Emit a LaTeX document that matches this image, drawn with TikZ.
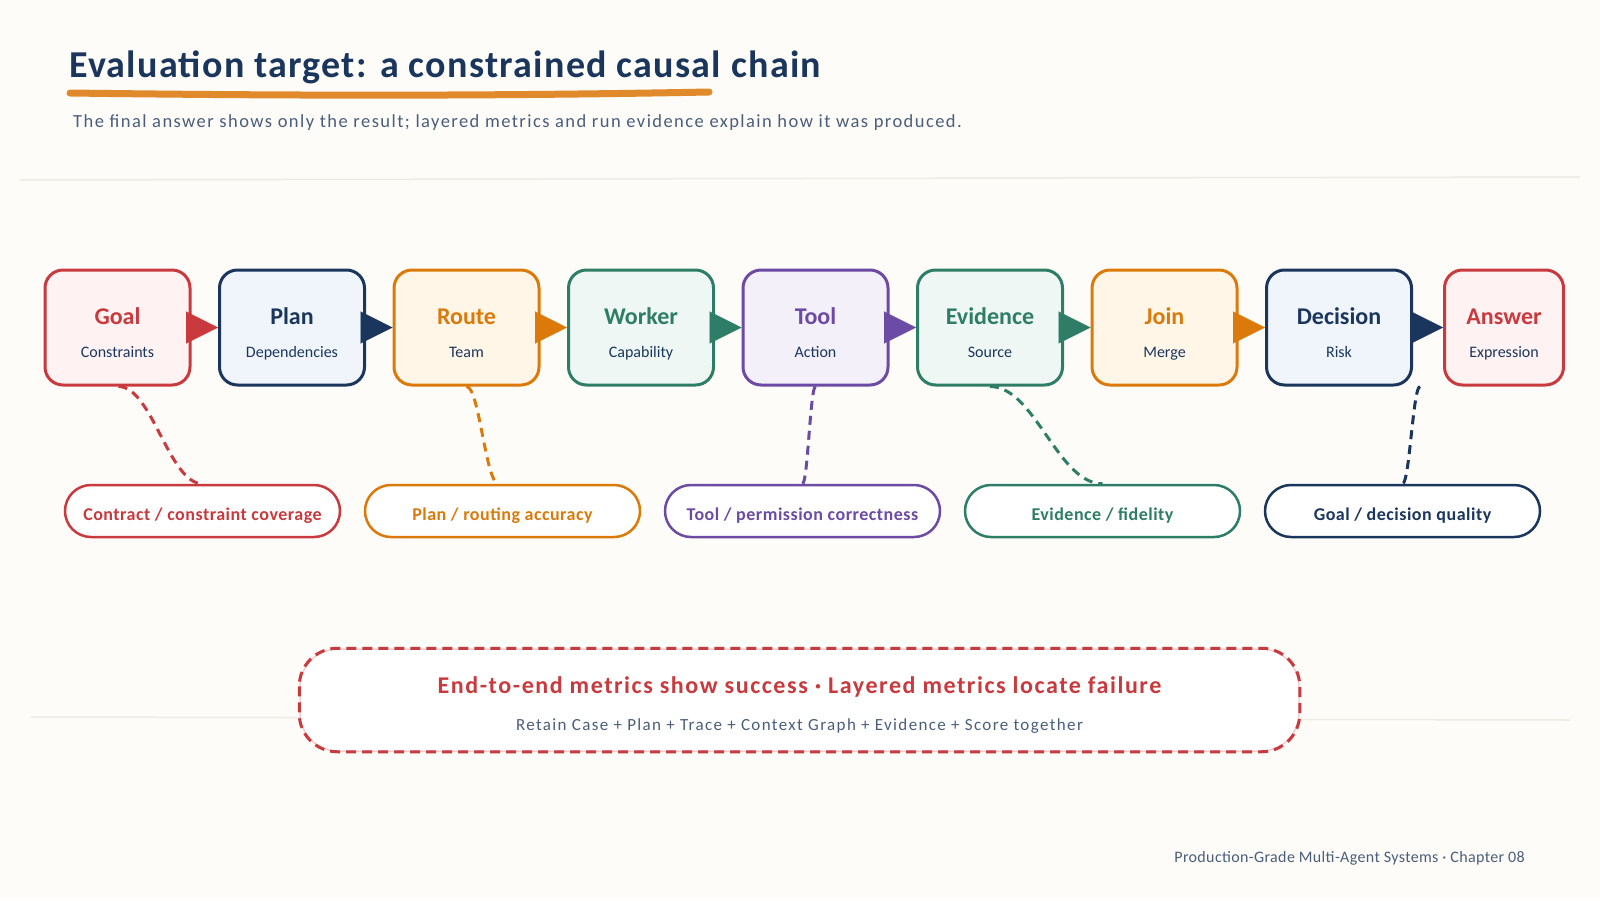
\documentclass[tikz,border=0pt]{standalone}
\usepackage{fontspec}
\setmainfont{Carlito}
\usetikzlibrary{arrows.meta,calc}
\definecolor{bg}{HTML}{FEFCF8}
\definecolor{cred}{HTML}{C93A3E}
\definecolor{credf}{HTML}{FFF2F2}
\definecolor{cnavy}{HTML}{1B365D}
\definecolor{cnavyf}{HTML}{F0F5FC}
\definecolor{corange}{HTML}{DB7A0A}
\definecolor{corangef}{HTML}{FFF6E8}
\definecolor{cgreen}{HTML}{2E7D66}
\definecolor{cgreenf}{HTML}{EFF7F4}
\definecolor{cpurple}{HTML}{6B4BA3}
\definecolor{cpurplef}{HTML}{F4F0FA}
\definecolor{cslate}{HTML}{4A5E7A}
\definecolor{cline}{HTML}{EDEBE3}
\definecolor{cunder}{HTML}{E08A2C}
\tikzset{
  box/.style={rectangle, rounded corners=18pt, line width=3pt, minimum height=115pt, inner sep=0pt},
  btitle/.style={anchor=base, inner sep=0pt, font=\fontsize{24}{28}\selectfont\bfseries},
  bsub/.style={anchor=base, inner sep=0pt, text=cnavy, font=\fontsize{16}{19}\selectfont},
  pill/.style={rectangle, rounded corners=26pt, line width=2.5pt, minimum width=275pt, minimum height=52pt, fill=white, inner sep=0pt},
  ptext/.style={anchor=base, inner sep=0pt, font=\fontsize{18}{22}\selectfont\bfseries\addfontfeatures{LetterSpace=2.8}},
  chainarrow/.style={line width=0.1pt, -{Triangle[length=32pt,width=32pt]}},
  link/.style={line width=3pt, dash pattern=on 9pt off 6pt},
}
\newcommand\chainbox[6]{%
  \node[box, draw=#4, fill=#4f, minimum width=#3] (#1) at (#2,327.5) {};
  \node[btitle, text=#4] (#1t) at (#2,324) {#5};
  \node[bsub] (#1s) at (#2,357) {#6};
}
\newcommand\metricpill[4]{%
  \node[pill, draw=#3] (#1) at (#2,511) {};
  \node[ptext, text=#3] (#1t) at (#2,520) {#4};
}
\begin{document}
\begin{tikzpicture}[x=1pt,y=-1pt]
\useasboundingbox (0,0) rectangle (1600,900);
\fill[bg] (0,0) rectangle (1600,900);
% separators
\draw[cline, line width=1.5pt] (20,180) -- (1580,177);
\draw[cline, line width=1.5pt] (31,717) -- (1570,720);
% title
\node[anchor=base west, inner sep=0pt, text=cnavy, font=\fontsize{38}{44}\selectfont\bfseries\addfontfeatures{LetterSpace=3.4}] (title) at (69,77) {Evaluation target: a constrained causal chain};
\draw[cunder, line width=7pt, line cap=round] (70,93) .. controls (300,96) and (500,96) .. (709,92);
\node[anchor=base west, inner sep=0pt, text=cslate, font=\fontsize{18.5}{22}\selectfont\addfontfeatures{LetterSpace=7.8}] (subtitle) at (73,127) {The final answer shows only the result; layered metrics and run evidence explain how it was produced.};
% chain boxes
\chainbox{goal}{117.5}{145pt}{cred}{Goal}{Constraints}
\chainbox{plan}{292}{145pt}{cnavy}{Plan}{Dependencies}
\chainbox{route}{466.5}{145pt}{corange}{Route}{Team}
\chainbox{worker}{641}{145pt}{cgreen}{Worker}{Capability}
\chainbox{tool}{815.5}{145pt}{cpurple}{Tool}{Action}
\chainbox{evid}{990}{145pt}{cgreen}{Evidence}{Source}
\chainbox{join}{1164.5}{145pt}{corange}{Join}{Merge}
\chainbox{dec}{1339}{145pt}{cnavy}{Decision}{Risk}
\chainbox{ans}{1504}{119pt}{cred}{Answer}{Expression}
% arrows
\draw[chainarrow, cred, fill=cred] (goal.east) -- (plan.west);
\draw[chainarrow, cnavy, fill=cnavy] (plan.east) -- (route.west);
\draw[chainarrow, corange, fill=corange] (route.east) -- (worker.west);
\draw[chainarrow, cgreen, fill=cgreen] (worker.east) -- (tool.west);
\draw[chainarrow, cpurple, fill=cpurple] (tool.east) -- (evid.west);
\draw[chainarrow, cgreen, fill=cgreen] (evid.east) -- (join.west);
\draw[chainarrow, corange, fill=corange] (join.east) -- (dec.west);
\draw[chainarrow, cnavy, fill=cnavy] (dec.east) -- (ans.west);
% metric pills
\metricpill{m1}{202.5}{cred}{Contract / constraint coverage}
\metricpill{m2}{502.5}{corange}{Plan / routing accuracy}
\metricpill{m3}{802.5}{cpurple}{Tool / permission correctness}
\metricpill{m4}{1102.5}{cgreen}{Evidence / fidelity}
\metricpill{m5}{1402.5}{cnavy}{Goal / decision quality}
% dashed links
\coordinate (s1) at ([xshift=1pt]goal.south);
\coordinate (s2) at (route.south);
\coordinate (s3) at (tool.south);
\coordinate (s4) at (evid.south);
\coordinate (s5) at ([xshift=7pt]dec.south east);
\coordinate (e1) at (m1.north);
\coordinate (e2) at ([xshift=-4pt]m2.north);
\coordinate (e3) at (m3.north);
\coordinate (e4) at (m4.north);
\coordinate (e5) at (m5.north);
\foreach \i/\c in {1/cred,2/corange,3/cpurple,4/cgreen,5/cnavy}{
  \coordinate (a\i) at ($(s\i)!0.4!(e\i)$);
  \coordinate (b\i) at ($(s\i)!0.6!(e\i)$);
  \draw[link, \c] (s\i) .. controls (a\i |- s\i) and (b\i |- e\i) .. (e\i);
}
% bottom callout
\node[rectangle, rounded corners=38pt, minimum width=999pt, minimum height=102pt, fill=white, draw=cred!25, line width=1.5pt] (callout) at (799.5,700) {};
\draw[cred, line width=3pt, dash pattern=on 10pt off 6pt, rounded corners=38pt] (callout.north west) rectangle (callout.south east);
\node[anchor=base, inner sep=0pt, text=cred, font=\fontsize{24}{28}\selectfont\bfseries\addfontfeatures{LetterSpace=6.5}] (calloutt) at (799.5,693) {End-to-end metrics show success · Layered metrics locate failure};
\node[anchor=base, inner sep=0pt, text=cslate, font=\fontsize{17}{20}\selectfont\addfontfeatures{LetterSpace=8.1}] (callouts) at (799.5,730) {Retain Case + Plan + Trace + Context Graph + Evidence + Score together};
% footer
\node[anchor=base east, inner sep=0pt, text=cslate, font=\fontsize{16}{19}\selectfont\addfontfeatures{LetterSpace=2.2}] (footer) at (1525,862) {Production-Grade Multi-Agent Systems · Chapter 08};
\end{tikzpicture}
\end{document}
